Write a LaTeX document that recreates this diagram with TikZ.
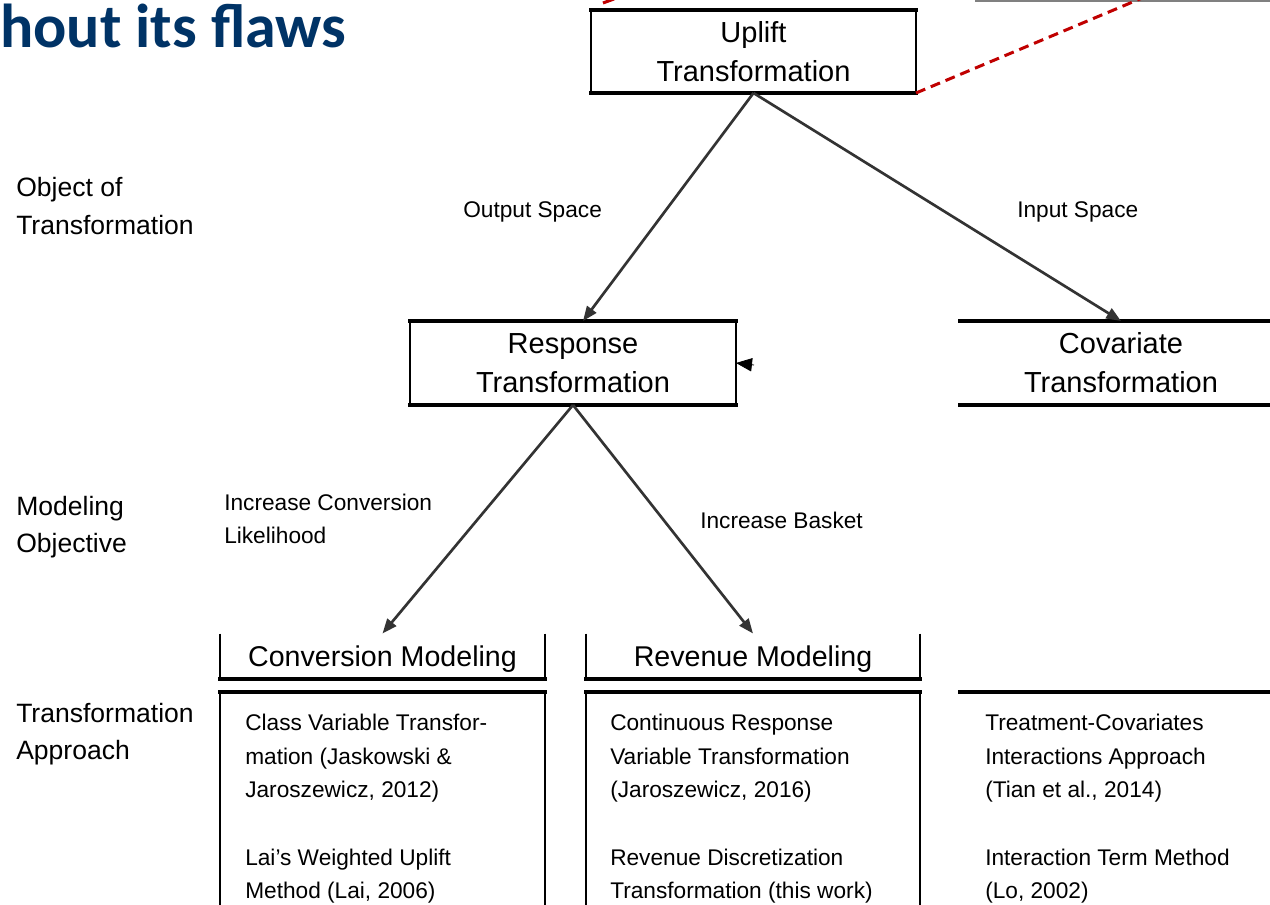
\documentclass[tikz,border=0pt]{standalone}
\usepackage{fontspec}
\setmainfont{Liberation Sans}
\newfontfamily\titlefont{Carlito}
\usetikzlibrary{arrows.meta}
\definecolor{titleblue}{RGB}{0,51,102}
\definecolor{dashred}{RGB}{192,0,0}
\begin{document}
\begin{tikzpicture}[x=0.75pt,y=-0.75pt,
  box/.style={inner sep=0pt, outer sep=0pt, align=center, font=\fontsize{21.75pt}{29.25pt}\selectfont},
  modbox/.style={inner sep=0pt, outer sep=0pt, align=center, text depth=0pt, font=\fontsize{21.45pt}{26pt}\selectfont},
  side/.style={line width=1.5pt, black},
  edgeline/.style={line width=3pt, black, line cap=rect},
  conn/.style={draw=black!80, line width=2pt, -{Triangle[length=11pt,width=8.5pt]}},
  lbl/.style={anchor=base west, inner sep=0pt, font=\fontsize{17pt}{20pt}\selectfont},
  sidelbl/.style={anchor=base west, inner sep=0pt, font=\fontsize{19.9pt}{24pt}\selectfont},
  body/.style={anchor=base west, inner sep=0pt, font=\fontsize{17pt}{20pt}\selectfont},
  reddash/.style={draw=dashred, line width=2.25pt, dash pattern=on 7.5pt off 4.5pt}
]
\path[use as bounding box, clip] (0,0) rectangle (1270,905);
\fill[white] (0,0) rectangle (1270,905);

% title fragment
\node[anchor=base west, inner sep=0pt, text=titleblue,
  font=\titlefont\bfseries\fontsize{46.5pt}{50pt}\selectfont] (title) at (0,48) {hout its flaws};

% top-right fragments
\coordinate (g1) at (975,1);
\coordinate (g2) at (1280,1);
\draw[gray, line width=1.5pt] (g1) -- (g2);
\coordinate (rs1) at (603,3);
\coordinate (rs2) at (614,-1);
\draw[dashred, line width=2.25pt] (rs1) -- (rs2);

% boxes
\node[box, minimum width=243.75pt, minimum height=62.25pt] (up) at (753.5,51.5) {Uplift\\Transformation};
\node[box, minimum width=244.5pt, minimum height=63pt] (resp) at (573,363) {Response\\Transformation};
\node[box, minimum width=241.5pt, minimum height=63pt] (cov) at (1121,363) {Covariate\\Transformation};
\node[modbox, minimum width=243.75pt, minimum height=33.75pt] (conv) at (382.5,656) {Conversion Modeling};
\node[modbox, minimum width=250.5pt, minimum height=33.75pt] (rev) at (753,656) {Revenue Modeling};
\node[inner sep=0pt, outer sep=0pt, minimum width=243.75pt, minimum height=174.75pt] (b1) at (382.5,808.5) {};
\node[inner sep=0pt, outer sep=0pt, minimum width=250.5pt, minimum height=174.75pt] (b2) at (753,808.5) {};
\node[inner sep=0pt, outer sep=0pt, minimum width=241.5pt, minimum height=174.75pt] (b3) at (1121,808.5) {};

% box borders
\draw[side] (up.north west) -- (up.south west) (up.north east) -- (up.south east);
\draw[edgeline] (up.north west) -- (up.north east) (up.south west) -- (up.south east);
\draw[side] (resp.north west) -- (resp.south west) (resp.north east) -- (resp.south east);
\draw[edgeline] (resp.north west) -- (resp.north east) (resp.south west) -- (resp.south east);
\draw[edgeline] (cov.north west) -- (cov.north east) (cov.south west) -- (cov.south east);
\draw[side] (conv.north west) -- (conv.south west) (conv.north east) -- (conv.south east);
\draw[edgeline] (conv.south west) -- (conv.south east);
\draw[side] (rev.north west) -- (rev.south west) (rev.north east) -- (rev.south east);
\draw[edgeline] (rev.south west) -- (rev.south east);
\draw[side] (b1.north west) -- (b1.south west) (b1.north east) -- (b1.south east);
\draw[edgeline] (b1.north west) -- (b1.north east);
\draw[side] (b2.north west) -- (b2.south west) (b2.north east) -- (b2.south east);
\draw[edgeline] (b2.north west) -- (b2.north east);
\draw[edgeline] (b3.north west) -- (b3.north east);

% connectors
\draw[conn] (up.south) -- ([xshift=7.5pt]resp.north);
\draw[conn] (up.south) -- (cov.north);
\draw[conn] (resp.south) -- (conv.north);
\draw[conn] (resp.south) -- (rev.north);
\coordinate (stray) at (754,365);
\draw[draw=black, line width=0.6pt, -{Triangle[length=12pt,width=10pt]}] (stray) -- (resp.east);

% red dashed line
\coordinate (rdend) at (1185,-20);
\draw[reddash] (up.south east) -- (rdend);

% edge labels
\node[lbl] (los) at (463,218) {Output Space};
\node[lbl] (lis) at (1017,218) {Input Space};
\node[lbl] (lic1) at (224,510) {Increase Conversion};
\node[lbl] (lic2) at (224,543) {Likelihood};
\node[lbl] (lib) at (700,528) {Increase Basket};

% side labels
\node[sidelbl] (s1a) at (16,197) {Object of};
\node[sidelbl] (s1b) at (16,235) {Transformation};
\node[sidelbl] (s2a) at (16,515) {Modeling};
\node[sidelbl] (s2b) at (16,552) {Objective};
\node[sidelbl] (s3a) at (16,722) {Transformation};
\node[sidelbl] (s3b) at (16,759) {Approach};

% box contents
\node[body] (t11) at (245,730) {Class Variable Transfor-};
\node[body] (t12) at (245,764) {mation (Jaskowski \&};
\node[body] (t13) at (245,797) {Jaroszewicz, 2012)};
\node[body] (t14) at (245,865) {Lai's Weighted Uplift};
\node[body] (t15) at (245,898) {Method (Lai, 2006)};

\node[body] (t21) at (610,730) {Continuous Response};
\node[body] (t22) at (610,764) {Variable Transformation};
\node[body] (t23) at (610,797) {(Jaroszewicz, 2016)};
\node[body] (t24) at (610,865) {Revenue Discretization};
\node[body] (t25) at (610,898) {Transformation (this work)};

\node[body] (t31) at (985,730) {Treatment-Covariates};
\node[body] (t32) at (985,764) {Interactions Approach};
\node[body] (t33) at (985,797) {(Tian et al., 2014)};
\node[body] (t34) at (985,865) {Interaction Term Method};
\node[body] (t35) at (985,898) {(Lo, 2002)};
\end{tikzpicture}
\end{document}
